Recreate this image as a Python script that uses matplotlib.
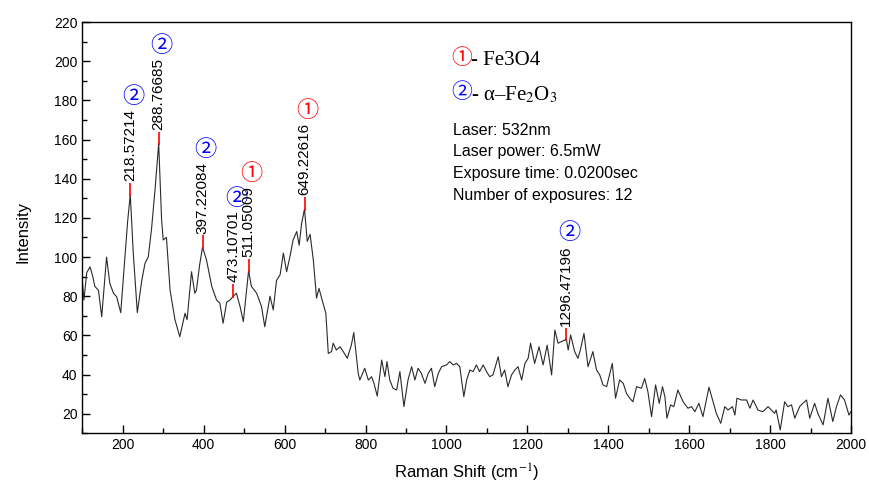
import matplotlib
matplotlib.use("Agg")
import matplotlib.pyplot as plt
from matplotlib.ticker import MultipleLocator

plt.rcParams['font.family'] = ['Liberation Sans', 'DejaVu Sans']
plt.rcParams['mathtext.fontset'] = 'stix'

# spectrum (Raman shift in cm-1, intensity in counts)
raman_shift = [100, 104, 111, 119, 126, 131, 140, 148, 160, 168, 177, 185, 195, 205, 212, 218.6,
               226, 236, 247, 255, 263, 271, 280, 288.8, 296, 300, 308, 317, 329, 341, 354, 359,
               370, 378, 382, 390, 397.2, 407, 420, 432, 440, 448, 457, 465, 473.1, 481, 490, 498,
               511, 518, 531, 543, 551, 564, 572, 580, 589, 597, 605, 613, 621, 630, 636, 642,
               649.2, 656, 663, 671, 679, 685, 695, 702, 708, 716, 720, 728, 737, 745, 755, 765,
               771, 782, 786, 798, 807, 815, 821, 829, 840, 848, 853, 860, 868, 877, 885, 895,
               905, 914, 922, 930, 938, 947, 955, 963, 971, 980, 988, 1000, 1008, 1017, 1025, 1033,
               1043, 1050, 1058, 1066, 1074, 1082, 1091, 1099, 1107, 1115, 1128, 1136, 1144, 1152,
               1161, 1169, 1177, 1186, 1194, 1202, 1208, 1218, 1229, 1239, 1249, 1260, 1268, 1276,
               1284, 1296.5, 1301, 1307, 1317, 1325, 1331, 1340, 1350, 1362, 1371, 1379, 1387, 1396,
               1410, 1418, 1428, 1437, 1445, 1453, 1461, 1470, 1482, 1490, 1498, 1507, 1517, 1526,
               1534, 1540, 1545, 1554, 1562, 1572, 1585, 1597, 1606, 1614, 1624, 1634, 1649, 1659,
               1667, 1678, 1688, 1696, 1707, 1713, 1718, 1729, 1742, 1750, 1758, 1770, 1782, 1795,
               1803, 1811, 1815, 1825, 1836, 1844, 1853, 1861, 1873, 1881, 1890, 1898, 1910, 1918,
               1931, 1943, 1955, 1964, 1974, 1984, 1995, 2000]
intensity = [88, 78, 92, 95, 90, 85, 83, 69.5, 100, 86.6, 81.5, 79.7, 71.6, 98.5, 118, 132,
             102, 71.6, 88, 96.8, 100, 114, 135, 158, 119, 108.7, 110, 83, 68, 59.3, 71.3, 68,
             92.5, 81.5, 83, 96, 105, 98.5, 85, 78, 76.5, 66.2, 77, 78, 80, 81.5, 74.7, 67,
             93, 85, 81.5, 74.7, 64.4, 80, 73, 88, 91, 102, 92.5, 100, 108.7, 113, 106, 117,
             124.5, 108, 111.6, 98.5, 79, 84, 76.4, 71.3, 50.8, 51.7, 56, 52.5, 54.2, 51.7, 48.3, 55,
             61.4, 40.6, 37.2, 43.2, 37.2, 38.9, 35.5, 29, 47.4, 38.9, 46.6, 37.2, 33, 32.1, 41.5, 23.6,
             37.2, 44, 37.2, 43.2, 40.6, 35.5, 40.6, 43.2, 33.8, 40.6, 44, 44.9, 46.6, 44.9, 45.7, 44,
             28.7, 37.2, 42.3, 41.5, 44.9, 41.5, 44.9, 41.5, 38.9, 39.8, 49.1, 38.9, 42.3, 33.8,
             39.8, 42.3, 44, 37.2, 45.7, 48.3, 56, 45.7, 54.2, 44.9, 55, 39.8, 62.7, 56,
             56.8, 58, 52.5, 60.2, 51.7, 48.3, 52.5, 61, 44, 51.7, 42.3, 39.8, 34.7, 33.8,
             45.7, 27.9, 37.2, 35.5, 30.4, 27.9, 26.1, 33.8, 33, 38, 31.2, 18.5, 34.7, 25.3,
             33.8, 28.7, 17.7, 24.5, 23.6, 32.1, 26.1, 22.8, 23.6, 21, 25.3, 18.5, 33.5, 26.1,
             20.2, 15.1, 23.6, 21.9, 23.6, 19.3, 27.9, 27, 27, 22.8, 27, 21.9, 21, 23.6,
             21.9, 20.2, 21.9, 11.7, 26.1, 23.6, 24.5, 17.7, 23.6, 25.3, 27, 17.7, 25.3, 20.2,
             14.3, 27.9, 16, 23.6, 29.6, 27, 19.3, 21]

# labelled peaks
peak_pos = [218.57214, 288.76685, 397.22084, 473.10701, 511.05009, 649.22616, 1296.47196]
peak_val = [132, 158, 105, 80, 93, 124.5, 58]
peak_phase = ['②', '②', '②', '②', '①', '①', '②']

phase_colors = {'①': '#ff0000', '②': '#0000ff'}
circle_font = ['Noto Sans CJK SC', 'DejaVu Sans']

fig = plt.figure(figsize=(8.69, 4.87), dpi=100)
ax = fig.add_axes([0.0947, 0.1103, 0.8846, 0.8445])

ax.plot(raman_shift, intensity, color='#2a2a2a', lw=0.8)

for x, y, ph in zip(peak_pos, peak_val, peak_phase):
    ax.vlines(x, y - 1, y + 6, color='red', lw=1.2)
    lab = ax.text(x, y + 7, f"{x:.5f}", rotation=90, ha='center', va='bottom', fontsize=11)
    ax.annotate(ph, xy=(0.5, 1), xycoords=lab, xytext=(2, 9), textcoords='offset points',
                ha='center', va='center', fontsize=16, color=phase_colors[ph], family=circle_font)

ax.set_xlim(100, 2000)
ax.set_ylim(10, 220)
ax.xaxis.set_major_locator(MultipleLocator(200))
ax.xaxis.set_minor_locator(MultipleLocator(100))
ax.yaxis.set_major_locator(MultipleLocator(20))
ax.yaxis.set_minor_locator(MultipleLocator(10))
ax.tick_params(which='both', direction='in', top=False, right=False, labelsize=10, width=1)
ax.tick_params(which='major', length=6)
ax.tick_params(which='minor', length=3.5)
for s in ax.spines.values():
    s.set_linewidth(1)

ax.set_xlabel('Raman Shift (cm$^{-1}$)', fontsize=12)
ax.set_ylabel('Intensity', fontsize=12)
ax.xaxis.set_label_coords(0.5, -0.07)
ax.yaxis.set_label_coords(-0.068, 0.49)

# legend for the phases
fig.text(0.531, 0.881, '①', color=phase_colors['①'], fontsize=15, family=circle_font,
         ha='center', va='center')
fig.text(0.542, 0.876, '- Fe3O4', fontsize=15, family='Liberation Serif', va='center')
fig.text(0.531, 0.812, '②', color=phase_colors['②'], fontsize=15, family=circle_font,
         ha='center', va='center')
fig.text(0.542, 0.806, '- α–Fe$_2$O$_3$', fontsize=15, family='Liberation Serif', va='center')

info_lines = ['Laser: 532nm', 'Laser power: 6.5mW', 'Exposure time: 0.0200sec',
              'Number of exposures: 12']
for i, line in enumerate(info_lines):
    fig.text(0.521, 0.733 - i * 0.045, line, fontsize=11.5, va='center')

fig.savefig('out.png', dpi=100)
